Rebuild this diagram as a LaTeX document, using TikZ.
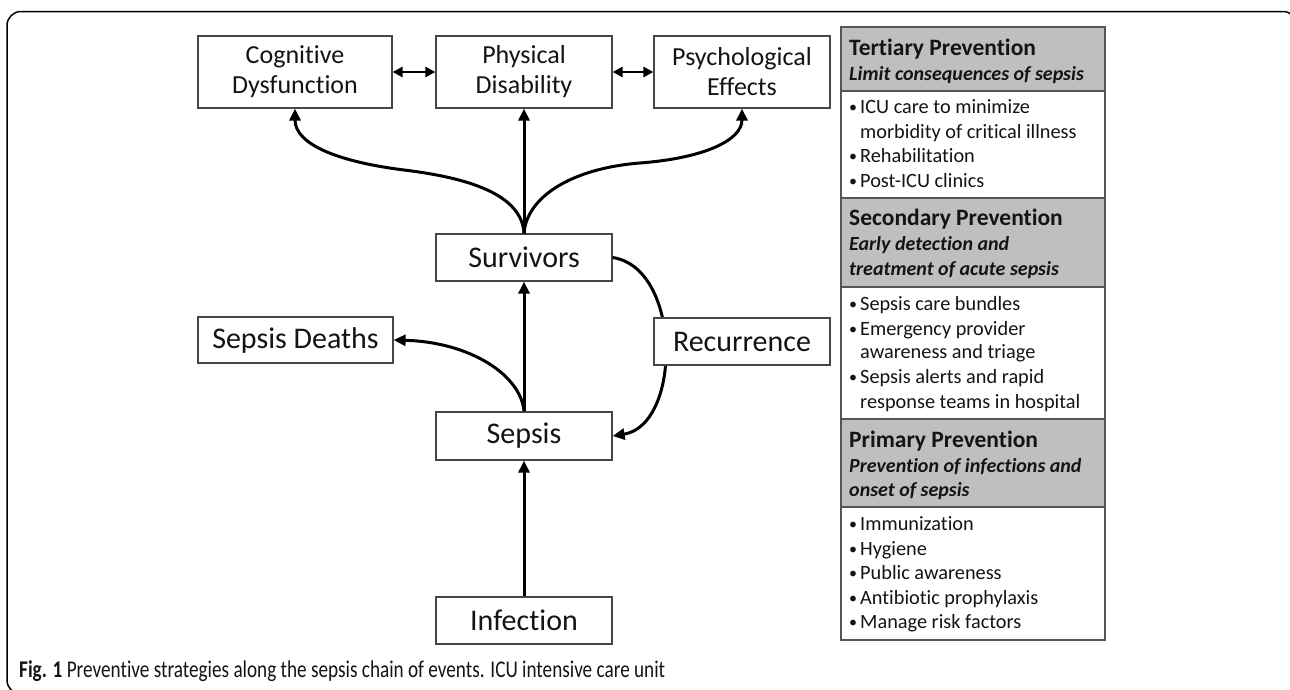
\documentclass[tikz,border=0pt]{standalone}
\usepackage{fontspec}
\setmainfont{Carlito}[Ligatures={NoCommon}]
\newfontfamily\capfont[FakeStretch=0.8,Ligatures={NoCommon}]{Carlito}
\usetikzlibrary{arrows.meta}
\definecolor{boxline}{RGB}{70,70,70}
\definecolor{panelline}{RGB}{85,85,85}
\definecolor{hdrgray}{RGB}{191,191,191}
\definecolor{txt}{RGB}{20,20,20}
\newcommand{\pl}[4]{\node[#1] (#2) at (#3) {#4};}
\newcommand{\bul}{\makebox[11pt][l]{\raisebox{1pt}{\fontsize{16}{16}\selectfont•}}}
\begin{document}
\begin{tikzpicture}[x=1pt,y=-1pt,
  box/.style={draw=boxline, line width=1.2pt, fill=white, inner sep=0pt, align=center, text=txt},
  big/.style={font=\fontsize{30}{30}\selectfont},
  two/.style={font=\fontsize{26}{30}\selectfont},
  arr/.style={line width=3pt, -{Triangle[length=12pt,width=11pt]}},
  dbl/.style={line width=2.6pt, {Triangle[length=10pt,width=10pt]}-{Triangle[length=10pt,width=10pt]}},
  hdr/.style={fill=hdrgray, draw=panelline, line width=1.2pt},
  bodybox/.style={fill=white, draw=panelline, line width=1.2pt},
  ptxt/.style={anchor=base west, inner sep=0pt, text=txt},
  ttl/.style={ptxt, font=\fontsize{23.5}{25}\selectfont\bfseries},
  sub/.style={ptxt, font=\fontsize{20}{25}\selectfont\bfseries\itshape},
  bod/.style={ptxt, font=\fontsize{20.3}{25}\selectfont},
  frame/.style={draw=black, line width=1.5pt, rounded corners=14pt}
]
\useasboundingbox (0,0) rectangle (1290,689);
\clip (0,0) rectangle (1290,689);
\path[frame] (7,11.5) rectangle (1297,694);

\coordinate (cl) at (404,170);
\coordinate (cr) at (640,163);

% boxes
\node[box, two, minimum width=194pt, minimum height=72pt] (cog) at (295,72) {Cognitive\\Dysfunction};
\node[box, two, minimum width=176pt, minimum height=72pt] (phys) at (524,72) {Physical\\Disability};
\node[box, two, minimum width=176pt, minimum height=72pt] (psy) at (742,72) {Psychological\\Effects};
\node[box, big, minimum width=176pt, minimum height=47pt] (surv) at (524,257.5) {Survivors};
\node[box, big, minimum width=195pt, minimum height=46pt] (death) at (295.5,340) {Sepsis Deaths};
\node[box, big, minimum width=176pt, minimum height=48pt] (seps) at (524,436) {Sepsis};
\node[box, big, minimum width=176pt, minimum height=47pt] (inf) at (524,620.5) {Infection};

% recurrence loop (behind the Recurrence box)
\draw[arr] (surv.east) .. controls (682,268) and (682,425) .. (seps.east);
\node[box, big, minimum width=176pt, minimum height=47pt] (rec) at (742,341.5) {Recurrence};

\draw[dbl] (cog.east) -- (phys.west);
\draw[dbl] (phys.east) -- (psy.west);
\draw[arr] (surv.north) -- (phys.south);
\draw[arr] (surv.north) .. controls (522,195) and (470,178) .. (cl) .. controls (340,162) and (295,145) .. (cog.south);
\draw[arr] (surv.north) .. controls (527,195) and (575,168) .. (cr) .. controls (705,158) and (742,140) .. (psy.south);
\draw[arr] (seps.north) -- (surv.south);
\draw[arr] (seps.north) .. controls (521,375) and (470,342) .. (death.east);
\draw[arr] (inf.north) -- (seps.south);

% prevention panel
\path[hdr] (841,27) rectangle (1105,91);
\path[bodybox] (841,91) rectangle (1105,198);
\path[hdr] (841,198) rectangle (1105,287);
\path[bodybox] (841,287) rectangle (1105,419);
\path[hdr] (841,419) rectangle (1105,507);
\path[bodybox] (841,507) rectangle (1105,640);

\pl{ttl}{t1}{849,55}{Tertiary Prevention}
\pl{sub}{t2}{849,80}{Limit consequences of sepsis}
\pl{bod}{t3}{849,113}{\bul ICU care to minimize}
\pl{bod}{t4}{860,138}{morbidity of critical illness}
\pl{bod}{t5}{849,162}{\bul Rehabilitation}
\pl{bod}{t6}{849,187}{\bul Post-ICU clinics}

\pl{ttl}{s1}{849,225}{Secondary Prevention}
\pl{sub}{s2}{849,250}{Early detection and}
\pl{sub}{s3}{849,275}{treatment of acute sepsis}
\pl{bod}{s4}{849,310}{\bul Sepsis care bundles}
\pl{bod}{s5}{849,335}{\bul Emergency provider}
\pl{bod}{s6}{860,358}{awareness and triage}
\pl{bod}{s7}{849,383}{\bul Sepsis alerts and rapid}
\pl{bod}{s8}{860,408}{response teams in hospital}

\pl{ttl}{p1}{849,447}{Primary Prevention}
\pl{sub}{p2}{849,472}{Prevention of infections and}
\pl{sub}{p3}{849,496}{onset of sepsis}
\pl{bod}{p4}{849,530}{\bul Immunization}
\pl{bod}{p5}{849,555}{\bul Hygiene}
\pl{bod}{p6}{849,579}{\bul Public awareness}
\pl{bod}{p7}{849,604}{\bul Antibiotic prophylaxis}
\pl{bod}{p8}{849,628}{\bul Manage risk factors}

% caption
\node[ptxt, font=\capfont\fontsize{24}{24}\selectfont] (cap) at (19,677) {\textbf{Fig. 1} Preventive strategies along the sepsis chain of events. ICU intensive care unit};
\end{tikzpicture}
\end{document}
